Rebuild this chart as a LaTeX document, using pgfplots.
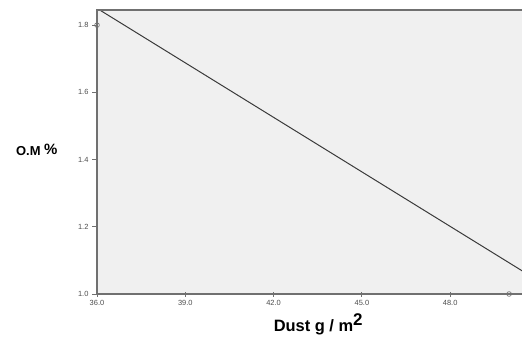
\documentclass[border=0pt]{standalone}
\usepackage{pgfplots}
\pgfplotsset{compat=1.18}
\usepackage{fontspec}
\setmainfont{Liberation Sans}
\definecolor{bgc}{HTML}{F0F0F0}
\definecolor{axc}{HTML}{707070}
\definecolor{lnc}{HTML}{3A3A3A}
\begin{document}
\begin{tikzpicture}[x=1bp,y=1bp]
\useasboundingbox (-97,-47) rectangle (425,294);
\begin{axis}[
  at={(0,0)}, anchor=south west,
  scale only axis, width=430bp, height=284bp,
  xmin=36, xmax=50.61, ymin=1.0, ymax=1.845,
  axis background/.style={fill=bgc},
  axis line style={draw=none},
  xtick={36,39,42,45,48}, ytick={1.0,1.2,1.4,1.6,1.8},
  xticklabel style={/pgf/number format/.cd, fixed, fixed zerofill, precision=1},
  yticklabel style={/pgf/number format/.cd, fixed, fixed zerofill, precision=1},
  /pgf/number format/assume math mode=true,
  ticklabel style={font=\fontsize{7.5}{8}\selectfont, text=black!70},
  xtick align=center, ytick align=outside,
  tick style={axc, line width=0.8pt},
  major tick length=5bp,
  xtick pos=bottom, ytick pos=left,
  xlabel={\textbf{Dust g / m\textsuperscript{\fontsize{17}{17}\selectfont 2}}},
  xlabel style={font=\fontsize{16.5}{18}\selectfont, at={(axis description cs:0.515,0)}, anchor=north, yshift=-16bp},
  ylabel={\textbf{O.M {\fontsize{15}{15}\selectfont\raisebox{1pt}{\%}}}},
  ylabel style={font=\fontsize{13}{15}\selectfont, rotate=-90, at={(axis description cs:0,0.5)}, anchor=east, xshift=-36bp, yshift=2bp},
  clip=true,
  after end axis/.code={
    \draw[axc, line width=1.2pt] (rel axis cs:1.02,0) -- (rel axis cs:0,0) -- (rel axis cs:0,1) -- (rel axis cs:1.02,1);
  },
]
\addplot[lnc, line width=1pt] coordinates {(36,1.850) (50.61,1.060)};
\addplot[only marks, mark=o, mark size=2.4pt, mark options={axc, line width=0.6pt}, clip=false] coordinates {(36,1.8) (50,1.0)};
\end{axis}
\end{tikzpicture}
\end{document}
